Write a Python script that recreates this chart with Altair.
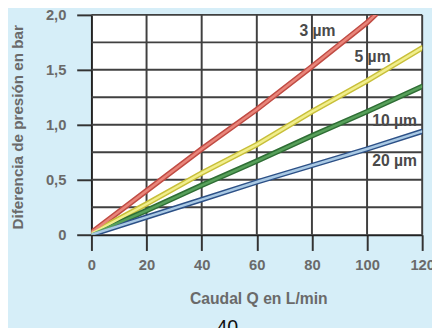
import altair as alt
import pandas as pd

# ---- data ----
caudal = [0, 20, 40, 60, 80, 100, 120]
red_q = [0, 20, 40, 60, 80, 100, 103]
red_p = [0.02, 0.40, 0.78, 1.14, 1.53, 1.93, 2.0]
yellow_p = [0.01, 0.28, 0.56, 0.82, 1.12, 1.40, 1.70]
green_p = [0.0, 0.22, 0.45, 0.67, 0.90, 1.12, 1.35]
blue_p = [0.0, 0.16, 0.32, 0.48, 0.63, 0.78, 0.94]

series_names = ["3 µm", "5 µm", "10 µm", "20 µm"]
edge_colors = ["#c04c44", "#c8bf3a", "#2f6e35", "#2d5187"]
core_colors = ["#e9857a", "#f1ee8c", "#57a05a", "#a9c9e4"]

label_q = [82, 102, 110, 110]
label_p = [1.85, 1.62, 1.03, 0.67]

x_ticks = [0, 20, 40, 60, 80, 100, 120]
y_ticks = [0, 0.5, 1.0, 1.5, 2.0]
h_grid = [0.25, 0.5, 0.75, 1.0, 1.25, 1.5, 1.75, 2.0]
v_grid = [20, 40, 60, 80, 100, 120]

# ---- tables ----
rows = []
series_q = [red_q, caudal, caudal, caudal]
series_p = [red_p, yellow_p, green_p, blue_p]
for name, qs, ps, ec, cc in zip(series_names, series_q, series_p, edge_colors, core_colors):
    for q, p in zip(qs, ps):
        rows.append({"Q": q, "P": p, "serie": name, "edge": ec, "core": cc})
lines_df = pd.DataFrame(rows)
labels_df = pd.DataFrame({"Q": label_q, "P": label_p, "txt": series_names})
hgrid_df = pd.DataFrame({"P": h_grid})
vgrid_df = pd.DataFrame({"Q": v_grid})

FONT = "Liberation Sans"
xs = alt.Scale(domain=[0, 120], nice=False, zero=False)
ys = alt.Scale(domain=[0, 2], nice=False, zero=False)

x_axis = alt.Axis(
    values=x_ticks, grid=False, tickSize=16, tickWidth=2, tickColor="#333333",
    domainColor="#222222", domainWidth=2, labelFont=FONT, labelFontSize=15,
    labelFontWeight="bold", labelColor="#6a6a6a", labelPadding=7, labelFlush=False,
    title="Caudal Q en L/min", titleFont=FONT, titleFontSize=16,
    titleFontWeight="bold", titleColor="#6a6a6a", titleBaseline="middle",
    titleY=65, titleX=170,
)
y_axis = alt.Axis(
    values=y_ticks, grid=False, tickSize=15, tickWidth=2, tickColor="#333333",
    domainColor="#222222", domainWidth=2, labelFont=FONT, labelFontSize=15,
    labelFontWeight="bold", labelColor="#6a6a6a", labelPadding=11, labelFlush=False,
    labelExpr="replace(format(datum.value, datum.value == 0 ? 'd' : '.1f'), '.', ',')",
    title="Diferencia de presión en bar", titleFont=FONT, titleFontSize=15.5,
    titleFontWeight="bold", titleColor="#6a6a6a", titleBaseline="middle",
    titleX=-75, titleY=114,
)


def X():
    return alt.X("Q:Q", scale=xs, axis=x_axis, title="Caudal Q en L/min")


def Y():
    return alt.Y("P:Q", scale=ys, axis=y_axis, title="Diferencia de presión en bar")


hgrid = alt.Chart(hgrid_df).mark_rule(color="#404040", strokeWidth=2).encode(y=Y())
vgrid = alt.Chart(vgrid_df).mark_rule(color="#404040", strokeWidth=2).encode(x=X())

edge = alt.Chart(lines_df).mark_line(strokeWidth=5.5, clip=True, strokeCap="round").encode(
    x=X(), y=Y(), detail="serie:N", color=alt.Color("edge:N", scale=None)
)
core = alt.Chart(lines_df).mark_line(strokeWidth=2.5, clip=True, strokeCap="round").encode(
    x=X(), y=Y(), detail="serie:N", color=alt.Color("core:N", scale=None)
)
labels = alt.Chart(labels_df).mark_text(
    font=FONT, fontSize=16, fontWeight="bold", color="#4a4a4a"
).encode(x=X(), y=Y(), text="txt:N")

chart = alt.layer(hgrid, vgrid, edge, core, labels).properties(
    width=337, height=224,
    background="#d6eef8",
    autosize=alt.AutoSizeParams(type="none"),
    padding={"left": 85, "top": 4, "right": 10, "bottom": 92},
    title=alt.TitleParams(
        "40", orient="bottom", anchor="middle", fontSize=20, font=FONT,
        fontWeight="normal", color="#111111", dx=-30, offset=12, baseline="top",
    ),
).configure_view(fill="white", stroke=None)

chart.save("out.html", embed_options={"renderer": "svg", "actions": False})
